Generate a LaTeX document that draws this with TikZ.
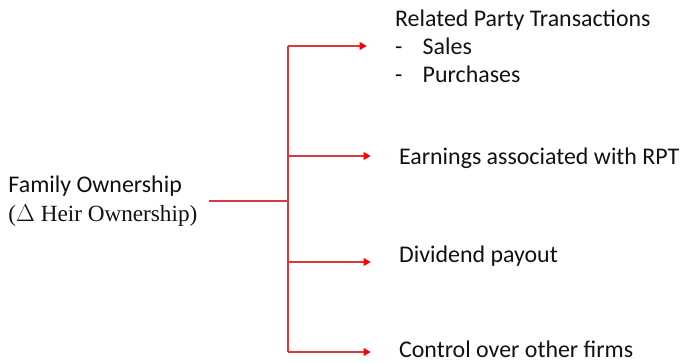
\documentclass[tikz,border=0pt]{standalone}
\usepackage{fontspec}
\setmainfont{Carlito}
\newfontfamily\timesfont{Liberation Serif}
\usetikzlibrary{arrows.meta,calc,positioning}
\definecolor{link}{HTML}{D63A3A}
\definecolor{tip}{HTML}{FF0000}
\definecolor{ink}{HTML}{111111}

\begin{document}
\begin{tikzpicture}[x=0.025cm,y=-0.025cm,font=\fontsize{17}{20}\selectfont]
\tikzset{
 wire/.style={link,line width=0.9pt},
 arr/.style={wire,-{Triangle[length=5pt,width=5.5pt,fill=tip,color=tip]},shorten >=18pt},
 lbl/.style={anchor=west,text=ink,inner sep=2pt,align=left}
}
\useasboundingbox (0,0) rectangle (681,362);
% source on the left
\node[lbl,inner xsep=3pt] (fam) at (4,201) {Family Ownership\\[1pt]{\timesfont\fontsize{16.5}{20}\selectfont($\Delta$ Heir Ownership)}};
\coordinate (split) at (288,201);
\coordinate (top) at (288,46);
\coordinate (bot) at (288,352);
% targets on the right
\node[lbl] (rpt) at (392,46) {Related Party Transactions\\-\hspace{0.85em}Sales\\-\hspace{0.85em}Purchases};
\foreach \ty/\ay/\name/\txt in {158/156/earn/Earnings associated with RPT,256/262/div/Dividend payout,349/352/ctrl/Control over other firms}{
 \node[lbl] (\name) at (396,\ty) {\txt};
 \draw[arr] (split |- 0,\ay) -- (\name.west |- 0,\ay);
}
% connectors
\draw[wire,shorten <=5pt] (fam.east) -- (split);
\draw[wire] (top) -- (bot);
\draw[arr] (top) -- (top -| rpt.west);
\end{tikzpicture}
\end{document}
